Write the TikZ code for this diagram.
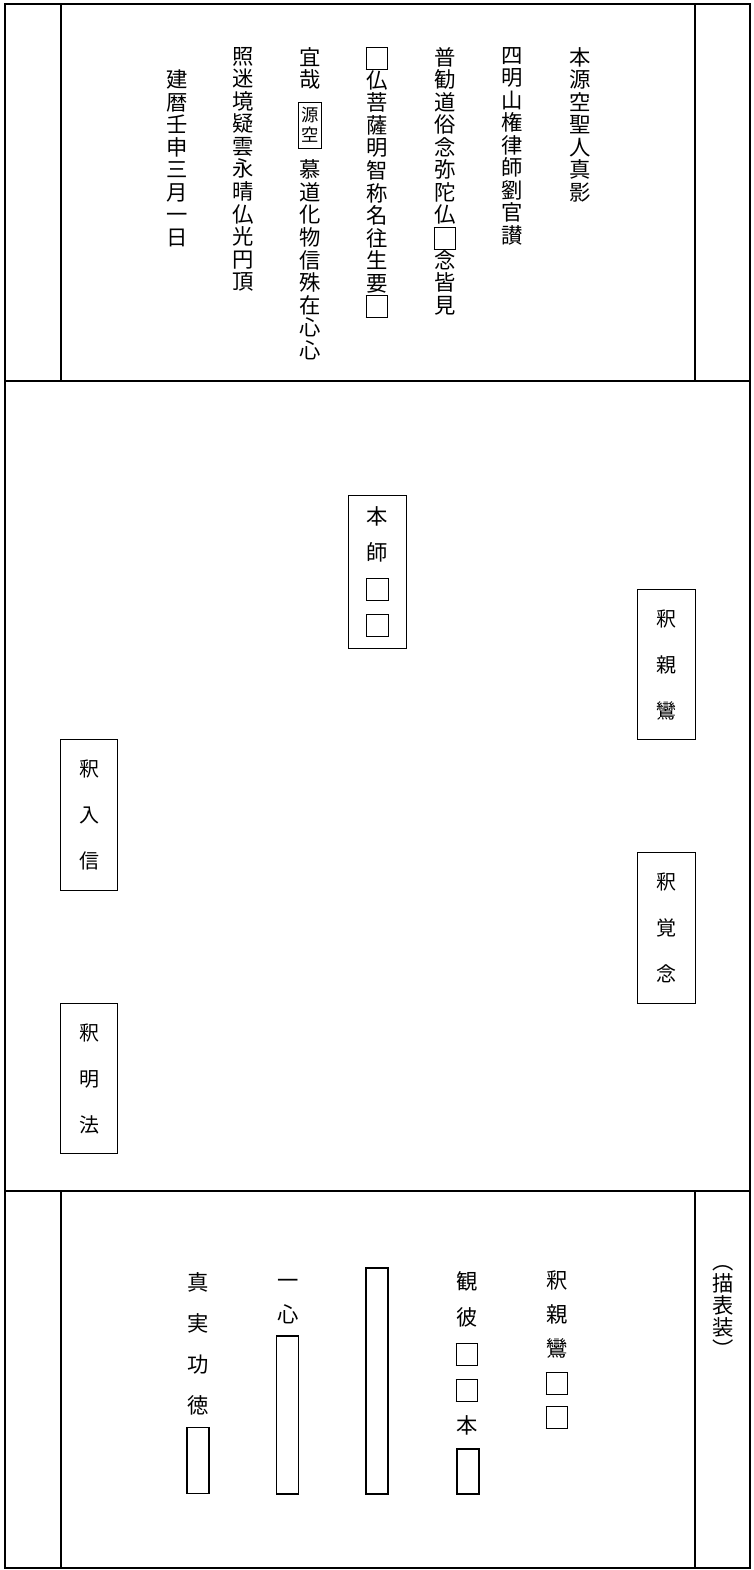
\documentclass[tikz,border=0pt]{standalone}
\usepackage{fontspec}
\newfontfamily\cjk{Noto Sans CJK JP}
\usepackage{tikz}
\setlength{\fboxsep}{0.6pt}
\setlength{\fboxrule}{0.6pt}
\setlength{\lineskiplimit}{-20pt}
\newcommand{\kara}{\fbox{\makebox[14.5pt]{\rule[-1.8pt]{0pt}{14.5pt}}}}
\newcommand{\aki}{\phantom{本}}
\tikzset{
  frameline/.style={line width=1.3pt,draw=black},
  vtext/.style={align=center,inner sep=0pt,
    font=\cjk\fontsize{16}{#1}\selectfont},
  vtext/.default=16.9pt,
  namebox/.style={draw,line width=0.9pt,inner sep=0pt,align=center,
    minimum width=43pt,minimum height=113pt,
    font=\cjk\fontsize{15}{34.5}\selectfont},
  slip/.style={draw,line width=0.8pt,inner sep=0pt,minimum width=16.5pt}
}
\begin{document}
\begin{tikzpicture}[x=0.75pt,y=-0.75pt]
  \useasboundingbox (0,0) rectangle (753,1570);
  % frame
  \draw[frameline] (5,4) rectangle (750,1568);
  \draw[frameline] (5,381) -- (750,381);
  \draw[frameline] (5,1191) -- (750,1191);
  \draw[frameline] (61,4) -- (61,381);
  \draw[frameline] (695,4) -- (695,381);
  \draw[frameline] (61,1191) -- (61,1568);
  \draw[frameline] (695,1191) -- (695,1568);
  % top: san
  \node[vtext,anchor=north] (san1) at (580,47) {本\\源\\空\\聖\\人\\真\\影};
  \node[vtext,anchor=north] (san2) at (512,47) {四\\明\\山\\権\\律\\師\\劉\\官\\讃};
  \node[vtext,anchor=north] (san3) at (445,47) {普\\勧\\道\\俗\\念\\弥\\陀\\仏\\\kara\\念\\皆\\見};
  \node[vtext,anchor=north] (san4) at (377,47) {\kara\\仏\\菩\\薩\\明\\智\\称\\名\\往\\生\\要\\\kara};
  \node[vtext,anchor=north] (san5) at (310,47) {宜\\哉\\\aki\\\aki\\\aki\\慕\\道\\化\\物\\信\\殊\\在\\心\\心};
  \node[draw,line width=0.6pt,inner sep=0pt,align=center,minimum width=17pt,minimum height=34.5pt,
    font=\cjk\fontsize{13}{15}\selectfont] (genku) at (310,125) {源\\空};
  \node[vtext,anchor=north] (san6) at (243,47) {照\\迷\\境\\疑\\雲\\永\\晴\\仏\\光\\円\\頂};
  \node[vtext,anchor=north] (san7) at (177,69.5) {建\\暦\\壬\\申\\三\\月\\一\\日};
  % middle: names
  \node[namebox,minimum height=115pt,font=\cjk\fontsize{16}{27}\selectfont]
    (honshi) at (377.5,572) {本\\師\\\kara\\\kara};
  \node[namebox] (shinran) at (666.5,664.5) {釈\\親\\鸞};
  \node[namebox] (kakunen) at (666.5,928) {釈\\覚\\念};
  \node[namebox] (nyushin) at (89,815) {釈\\入\\信};
  \node[namebox] (myoho) at (89,1078.5) {釈\\明\\法};
  % bottom
  \node[vtext=30.8pt] (shinjitsu) at (198,1343.5) {真\\実\\功\\徳};
  \node[slip,minimum height=50pt] (shinjitsub) at (198,1460.5) {};
  \node[vtext=25.5pt] (isshin) at (288,1302) {一\\心};
  \node[slip,minimum height=118.5pt] (isshinb) at (287.5,1415) {};
  \node[slip,minimum height=169.5pt] (nagab) at (377,1381) {};
  \node[vtext=27pt] (kanpi) at (467,1353.5) {観\\彼\\\kara\\\kara\\本};
  \node[slip,minimum height=33.75pt] (kanpib) at (468,1471.5) {};
  \node[vtext=25.5pt] (shinranb) at (557,1349.5) {釈\\親\\鸞\\\kara\\\kara};
  \node[vtext=16.5pt] (hyoso) at (723,1312) {︵\\描\\表\\装\\︶};
\end{tikzpicture}
\end{document}
